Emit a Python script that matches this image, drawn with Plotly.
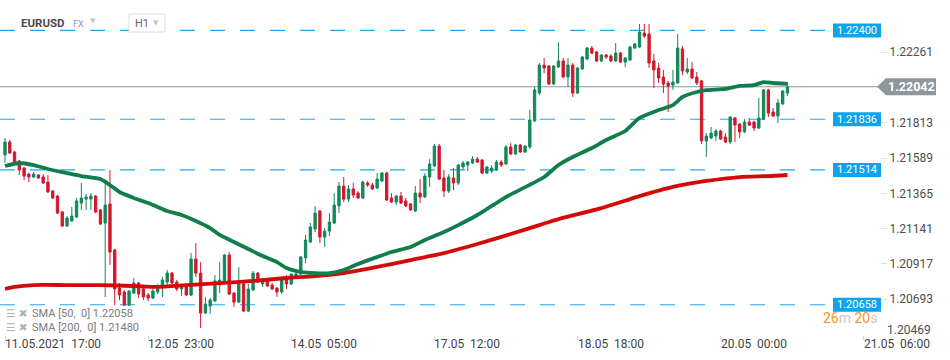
import plotly.graph_objects as go

# ---------------- data ----------------
bar_index = list(range(165))

opens = [1.21609, 1.21691, 1.21628, 1.21571, 1.21526, 1.21488, 1.21469, 1.21482, 1.21469, 1.21437,
         1.21380, 1.21348, 1.21247, 1.21158, 1.21190, 1.21215, 1.21304, 1.21329, 1.21329, 1.21348,
         1.21260, 1.21177, 1.21298, 1.21006, 1.20764, 1.20739, 1.20656, 1.20732, 1.20796, 1.20758,
         1.20720, 1.20701, 1.20739, 1.20771, 1.20802, 1.20859, 1.20802, 1.20758, 1.20783, 1.20720,
         1.20948, 1.20859, 1.20605, 1.20650, 1.20682, 1.20783, 1.20802, 1.20974, 1.20732, 1.20675,
         1.20790, 1.20618, 1.20752, 1.20859, 1.20790, 1.20809, 1.20783, 1.20764, 1.20739, 1.20828,
         1.20790, 1.20834, 1.20853, 1.20955, 1.21056, 1.21139, 1.21253, 1.21088, 1.21126, 1.21177,
         1.21285, 1.21412, 1.21329, 1.21393, 1.21367, 1.21336, 1.21431, 1.21418, 1.21399, 1.21444,
         1.21494, 1.21336, 1.21310, 1.21348, 1.21317, 1.21298, 1.21253, 1.21367, 1.21342, 1.21469,
         1.21539, 1.21666, 1.21463, 1.21380, 1.21463, 1.21431, 1.21533, 1.21545, 1.21558, 1.21583,
         1.21577, 1.21494, 1.21507, 1.21514, 1.21564, 1.21552, 1.21660, 1.21615, 1.21672, 1.21628,
         1.21660, 1.21825, 1.22002, 1.22180, 1.22174, 1.22060, 1.22168, 1.22206, 1.22104, 1.22180,
         1.22002, 1.22155, 1.22218, 1.22288, 1.22263, 1.22206, 1.22244, 1.22237, 1.22206, 1.22256,
         1.22199, 1.22212, 1.22288, 1.22295, 1.22383, 1.22377, 1.22206, 1.22161, 1.22104, 1.22066,
         1.22053, 1.22066, 1.22282, 1.22136, 1.22155, 1.22104, 1.22079, 1.21698, 1.21717, 1.21729,
         1.21761, 1.21723, 1.21691, 1.21844, 1.21806, 1.21755, 1.21818, 1.21818, 1.21780, 1.21837,
         1.22022, 1.21882, 1.21856, 1.21933, 1.22002]

highs = [1.21717, 1.21704, 1.21634, 1.21577, 1.21533, 1.21494, 1.21501, 1.21488, 1.21488, 1.21482,
         1.21387, 1.21355, 1.21253, 1.21221, 1.21279, 1.21336, 1.21431, 1.21361, 1.21367, 1.21355,
         1.21266, 1.21437, 1.21514, 1.21012, 1.20796, 1.20752, 1.20752, 1.20828, 1.20802, 1.20771,
         1.20732, 1.20764, 1.20790, 1.20834, 1.20879, 1.20866, 1.20815, 1.20790, 1.20790, 1.20986,
         1.21050, 1.20929, 1.20707, 1.20701, 1.20847, 1.20929, 1.20980, 1.20993, 1.20739, 1.20898,
         1.20796, 1.20790, 1.20872, 1.20866, 1.20828, 1.20821, 1.20796, 1.20771, 1.20828, 1.20847,
         1.20859, 1.20872, 1.20967, 1.21101, 1.21177, 1.21285, 1.21260, 1.21145, 1.21240, 1.21367,
         1.21437, 1.21469, 1.21418, 1.21431, 1.21380, 1.21444, 1.21444, 1.21431, 1.21494, 1.21501,
         1.21501, 1.21367, 1.21355, 1.21374, 1.21336, 1.21304, 1.21412, 1.21456, 1.21494, 1.21583,
         1.21679, 1.21679, 1.21514, 1.21488, 1.21526, 1.21552, 1.21571, 1.21571, 1.21602, 1.21596,
         1.21583, 1.21539, 1.21545, 1.21577, 1.21577, 1.21672, 1.21685, 1.21679, 1.21679, 1.21672,
         1.21895, 1.22041, 1.22193, 1.22225, 1.22180, 1.22180, 1.22326, 1.22225, 1.22225, 1.22193,
         1.22168, 1.22237, 1.22295, 1.22301, 1.22269, 1.22250, 1.22250, 1.22250, 1.22320, 1.22263,
         1.22231, 1.22301, 1.22320, 1.22441, 1.22441, 1.22441, 1.22250, 1.22193, 1.22149, 1.22079,
         1.22149, 1.22377, 1.22301, 1.22225, 1.22199, 1.22136, 1.22085, 1.21748, 1.21787, 1.21774,
         1.21768, 1.21748, 1.21856, 1.21850, 1.21812, 1.21837, 1.21844, 1.21825, 1.21971, 1.22028,
         1.22028, 1.21907, 1.21964, 1.22022, 1.22072]

lows = [1.21558, 1.21615, 1.21558, 1.21482, 1.21450, 1.21437, 1.21463, 1.21456, 1.21425, 1.21367,
        1.21329, 1.21234, 1.21152, 1.21152, 1.21183, 1.21209, 1.21260, 1.21260, 1.21260, 1.21240,
        1.21164, 1.20707, 1.20910, 1.20656, 1.20688, 1.20650, 1.20650, 1.20726, 1.20701, 1.20688,
        1.20682, 1.20694, 1.20726, 1.20707, 1.20783, 1.20790, 1.20745, 1.20713, 1.20713, 1.20713,
        1.20834, 1.20510, 1.20599, 1.20599, 1.20675, 1.20732, 1.20796, 1.20720, 1.20644, 1.20669,
        1.20612, 1.20612, 1.20745, 1.20796, 1.20771, 1.20771, 1.20752, 1.20707, 1.20726, 1.20758,
        1.20783, 1.20828, 1.20847, 1.20923, 1.21050, 1.21120, 1.21050, 1.21025, 1.21094, 1.21171,
        1.21240, 1.21310, 1.21310, 1.21336, 1.21329, 1.21329, 1.21406, 1.21387, 1.21393, 1.21437,
        1.21317, 1.21304, 1.21291, 1.21298, 1.21279, 1.21253, 1.21247, 1.21304, 1.21336, 1.21406,
        1.21533, 1.21450, 1.21342, 1.21367, 1.21387, 1.21418, 1.21514, 1.21507, 1.21552, 1.21558,
        1.21488, 1.21488, 1.21494, 1.21507, 1.21533, 1.21545, 1.21609, 1.21609, 1.21621, 1.21621,
        1.21647, 1.21818, 1.21990, 1.22129, 1.22053, 1.22053, 1.22161, 1.22098, 1.22041, 1.21977,
        1.21996, 1.22149, 1.22212, 1.22250, 1.22199, 1.22199, 1.22218, 1.22199, 1.22199, 1.22193,
        1.22168, 1.22206, 1.22282, 1.22288, 1.22352, 1.22161, 1.22034, 1.22066, 1.22002, 1.21882,
        1.22022, 1.22060, 1.22117, 1.22123, 1.22091, 1.22053, 1.21679, 1.21596, 1.21710, 1.21698,
        1.21704, 1.21685, 1.21679, 1.21691, 1.21717, 1.21748, 1.21793, 1.21761, 1.21774, 1.21831,
        1.21850, 1.21850, 1.21812, 1.21926, 1.21983]

closes = [1.21691, 1.21621, 1.21564, 1.21514, 1.21475, 1.21469, 1.21488, 1.21463, 1.21431, 1.21374,
          1.21336, 1.21240, 1.21158, 1.21209, 1.21221, 1.21317, 1.21336, 1.21342, 1.21348, 1.21247,
          1.21171, 1.21291, 1.20993, 1.20758, 1.20720, 1.20656, 1.20745, 1.20796, 1.20726, 1.20707,
          1.20701, 1.20745, 1.20777, 1.20815, 1.20859, 1.20796, 1.20758, 1.20777, 1.20720, 1.20948,
          1.20859, 1.20605, 1.20663, 1.20688, 1.20809, 1.20815, 1.20974, 1.20726, 1.20675, 1.20790,
          1.20618, 1.20758, 1.20859, 1.20802, 1.20815, 1.20777, 1.20758, 1.20739, 1.20815, 1.20790,
          1.20853, 1.20853, 1.20961, 1.21069, 1.21152, 1.21240, 1.21088, 1.21126, 1.21183, 1.21291,
          1.21412, 1.21329, 1.21393, 1.21355, 1.21336, 1.21437, 1.21418, 1.21393, 1.21456, 1.21494,
          1.21323, 1.21310, 1.21348, 1.21304, 1.21285, 1.21260, 1.21367, 1.21342, 1.21475, 1.21552,
          1.21666, 1.21456, 1.21380, 1.21469, 1.21431, 1.21545, 1.21558, 1.21564, 1.21583, 1.21564,
          1.21494, 1.21533, 1.21526, 1.21564, 1.21545, 1.21660, 1.21615, 1.21672, 1.21628, 1.21666,
          1.21831, 1.22022, 1.22180, 1.22161, 1.22060, 1.22174, 1.22206, 1.22104, 1.22180, 1.22002,
          1.22161, 1.22231, 1.22288, 1.22256, 1.22206, 1.22244, 1.22231, 1.22206, 1.22256, 1.22199,
          1.22225, 1.22295, 1.22314, 1.22390, 1.22364, 1.22193, 1.22149, 1.22098, 1.22060, 1.22047,
          1.22072, 1.22288, 1.22142, 1.22155, 1.22098, 1.22066, 1.21698, 1.21729, 1.21748, 1.21761,
          1.21710, 1.21691, 1.21850, 1.21799, 1.21755, 1.21818, 1.21799, 1.21780, 1.21844, 1.22022,
          1.21875, 1.21856, 1.21939, 1.22015, 1.22041]

sma50_bars = [0, 3, 6, 9, 13, 16, 20, 22, 24, 27, 30, 32, 34, 37, 40, 43, 45, 48, 51, 54,
              57, 59, 62, 65, 68, 71, 74, 78, 81, 85, 88, 92, 95, 99, 101, 105, 113, 116, 119, 123,
              126, 130, 133, 137, 140, 142, 145, 147, 151, 154, 157, 159, 161, 164]
sma50_vals = [1.21539, 1.21558, 1.21545, 1.21520, 1.21494, 1.21475, 1.21456, 1.21418, 1.21374, 1.21336,
              1.21304, 1.21279, 1.21253, 1.21228, 1.21190, 1.21145, 1.21101, 1.21056, 1.21012, 1.20967,
              1.20929, 1.20891, 1.20866, 1.20859, 1.20859, 1.20879, 1.20917, 1.20961, 1.20993, 1.21025,
              1.21069, 1.21120, 1.21164, 1.21228, 1.21266, 1.21342, 1.21469, 1.21545, 1.21596, 1.21653,
              1.21704, 1.21761, 1.21844, 1.21894, 1.21926, 1.21977, 1.22009, 1.22021, 1.22028, 1.22047,
              1.22053, 1.22072, 1.22066, 1.22060]

sma200_bars = [0, 2, 6, 13, 20, 27, 32, 38, 45, 52, 59, 65, 71, 78, 85, 92, 99, 106, 112, 116,
               125, 133, 140, 147, 154, 160, 164]
sma200_vals = [1.20758, 1.20771, 1.20783, 1.20783, 1.20783, 1.20777, 1.20771, 1.20783, 1.20796, 1.20809,
               1.20828, 1.20840, 1.20859, 1.20898, 1.20942, 1.20986, 1.21044, 1.21107, 1.21164, 1.21202,
               1.21272, 1.21348, 1.21406, 1.21444, 1.21469, 1.21475, 1.21482]

tick_bars = [0, 30, 60, 90, 120, 150, 180]
tick_texts = ["11.05.2021\u00a0 17:00", "12.05\u00a0 23:00", "14.05\u00a0 05:00", "17.05\u00a0 12:00",
              "18.05\u00a0 18:00", "20.05\u00a0 00:00", "21.05\u00a0 06:00"]
price_ticks = [1.22261, 1.21813, 1.21589, 1.21365, 1.21141, 1.20917, 1.20693]
bottom_price_tick = 1.20469
level_prices = [1.22400, 1.21836, 1.21514, 1.20658]
last_price = 1.22042
sma50_last = 1.22058
sma200_last = 1.21480

# ---------------- styling ----------------
FONT = "Roboto"
GREEN_C = "#13885a"
RED_C = "#d2182c"
SMA50_C = "#0f7e4c"
SMA200_C = "#d20a0a"
LEVEL_C = "#22a7ee"
BOX_C = "#0ea4ec"
PRICE_C = "#8d979c"

W, H = 950, 360
ML, MR, MT, MB = 0, 70, 0, 25
PW = W - ML - MR
PH = H - MT - MB


def px(xp):
    return (xp - ML) / PW


def py(yp):
    return (PH + MT - yp) / PH


Y_RANGE = [1.20466, 1.22593]
PX_PER_PRICE = PH / (Y_RANGE[1] - Y_RANGE[0])

fig = go.Figure()

fig.add_trace(go.Scatter(x=sma200_bars, y=sma200_vals, mode="lines",
                         line=dict(color=SMA200_C, width=3.8, shape="spline", smoothing=0.6),
                         hoverinfo="skip"))
fig.add_trace(go.Scatter(x=sma50_bars, y=sma50_vals, mode="lines",
                         line=dict(color=SMA50_C, width=3.8, shape="spline", smoothing=0.6),
                         hoverinfo="skip"))

fig.add_trace(go.Candlestick(
    x=bar_index, open=opens, high=highs, low=lows, close=closes,
    increasing=dict(line=dict(color=GREEN_C, width=1), fillcolor=GREEN_C),
    decreasing=dict(line=dict(color=RED_C, width=1), fillcolor=RED_C),
    whiskerwidth=0, hoverinfo="skip"))

shapes = []
annotations = []

# dashed levels + labels
half_box = 7 / PX_PER_PRICE
for lv in level_prices:
    shapes.append(dict(type="line", xref="paper", yref="y", x0=0, x1=px(828), y0=lv, y1=lv,
                       line=dict(color=LEVEL_C, width=1.2, dash="15px,15px"), layer="below"))
    shapes.append(dict(type="rect", xref="paper", yref="y", x0=px(833), x1=px(881),
                       y0=lv - half_box, y1=lv + half_box, fillcolor=BOX_C, line=dict(width=0)))
    annotations.append(dict(xref="paper", yref="y", x=px(857), y=lv, text=f"{lv:.5f}",
                            showarrow=False, xanchor="center", yanchor="middle",
                            font=dict(family=FONT, size=11, color="white")))

# current price line + arrow label
shapes.append(dict(type="line", xref="paper", yref="y", x0=0, x1=px(878), y0=last_price, y1=last_price,
                   line=dict(color=PRICE_C, width=1), layer="below"))
hh = 8.5 / PX_PER_PRICE
path = (f"M {px(877)} {last_price} L {px(886)} {last_price + hh} L {px(936)} {last_price + hh} "
        f"L {px(936)} {last_price - hh} L {px(886)} {last_price - hh} Z")
shapes.append(dict(type="path", xref="paper", yref="y", path=path, fillcolor=PRICE_C, line=dict(width=0)))
annotations.append(dict(xref="paper", yref="y", x=px(911), y=last_price, text=f"<b>{last_price:.5f}</b>",
                        showarrow=False, xanchor="center", yanchor="middle",
                        font=dict(family=FONT, size=12.5, color="white")))

# bottom price tick (shifted up like the reference)
annotations.append(dict(xref="paper", yref="y", x=1, y=bottom_price_tick, xshift=5, yshift=5,
                        text=f"{bottom_price_tick:.5f}", showarrow=False, xanchor="left", yanchor="middle",
                        font=dict(family=FONT, size=12, color="#4d4d4d")))

# x labels, left aligned at their ticks
for b, t in zip(tick_bars, tick_texts):
    annotations.append(dict(xref="x", yref="paper", x=b, y=0, text=t, showarrow=False,
                            xanchor="left", yanchor="top", xshift=-2, yshift=0,
                            font=dict(family=FONT, size=12, color="#3f3f3f")))

# header
annotations += [
    dict(xref="paper", yref="paper", x=px(19), y=py(23), text="<b>EURUSD</b>", showarrow=False,
         xanchor="left", yanchor="middle", font=dict(family=FONT, size=11.5, color="#4a4a4a")),
    dict(xref="paper", yref="paper", x=px(71), y=py(24), text="FX", showarrow=False,
         xanchor="left", yanchor="middle", font=dict(family=FONT, size=9, color="#8a98a4")),
    dict(xref="paper", yref="paper", x=px(88), y=py(21), text="▼", showarrow=False,
         xanchor="left", yanchor="middle", font=dict(family="DejaVu Sans", size=7, color="#c4c4c4")),
    dict(xref="paper", yref="paper", x=px(133), y=py(23), text="H1", showarrow=False,
         xanchor="left", yanchor="middle", font=dict(family=FONT, size=11, color="#666666")),
    dict(xref="paper", yref="paper", x=px(151), y=py(23), text="▼", showarrow=False,
         xanchor="left", yanchor="middle", font=dict(family="DejaVu Sans", size=7, color="#c4c4c4")),
]
shapes.append(dict(type="rect", xref="paper", yref="paper", x0=px(129), x1=px(165), y0=py(32), y1=py(14),
                   line=dict(color="#dcdcdc", width=1), fillcolor="white"))

# indicator legend
for yy, txt in [(313, f"SMA [50,\u00a0 0] {sma50_last:.5f}"), (327, f"SMA [200,\u00a0 0] {sma200_last:.5f}")]:
    annotations.append(dict(xref="paper", yref="paper", x=px(4), y=py(yy), text="☰ ✖", showarrow=False,
                            xanchor="left", yanchor="middle",
                            font=dict(family="DejaVu Sans", size=10.5, color="#b0b0b0")))
    annotations.append(dict(xref="paper", yref="paper", x=px(30), y=py(yy), text=txt, showarrow=False,
                            xanchor="left", yanchor="middle",
                            font=dict(family=FONT, size=11, color="#7a7a7a")))

# countdown
annotations.append(dict(xref="paper", yref="paper", x=px(821), y=py(318),
                        text='<span style="color:#f7951f">26</span><span style="color:#c9c9c9">m </span>'
                             '<span style="color:#f7951f">20</span><span style="color:#c9c9c9">s</span>',
                        showarrow=False, xanchor="left", yanchor="middle",
                        font=dict(family=FONT, size=14, color="#f7951f")))

fig.update_layout(
    width=W, height=H, margin=dict(l=ML, r=MR, t=MT, b=MB),
    plot_bgcolor="white", paper_bgcolor="white", showlegend=False,
    shapes=shapes, annotations=annotations,
    xaxis=dict(range=[-1.05, 183.4], showgrid=False, zeroline=False, showline=False,
               tickvals=tick_bars, showticklabels=False, ticks="outside", ticklen=4,
               tickcolor="#d4d4d4", rangeslider=dict(visible=False), fixedrange=True),
    yaxis=dict(side="right", range=Y_RANGE, tickvals=price_ticks, ticktext=[f"{v:.5f}" for v in price_ticks],
               ticks="outside", ticklen=6, tickcolor="#dedede", showgrid=False, zeroline=False,
               showline=False, tickfont=dict(family=FONT, size=12, color="#4d4d4d"), fixedrange=True),
)

fig.write_html("out.html", config={"displayModeBar": False},
               post_script="document.body.style.margin='0';document.body.style.padding='0';")
